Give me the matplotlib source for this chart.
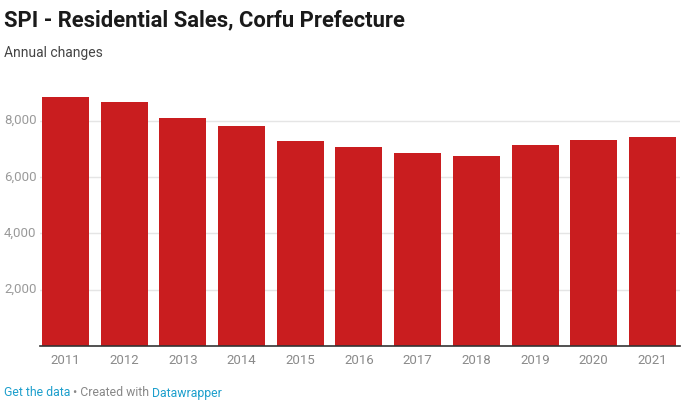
import matplotlib
matplotlib.use("Agg")
from matplotlib import pyplot as plt

years = ["2011", "2012", "2013", "2014", "2015", "2016",
         "2017", "2018", "2019", "2020", "2021"]
sales = [8850, 8680, 8105, 7820, 7290, 7050, 6860, 6755, 7145, 7325, 7430]
y_ticks = [2000, 4000, 6000, 8000]


def main():
    plt.rcParams["font.family"] = ["Roboto", "DejaVu Sans"]
    W, H = 694, 404
    fig = plt.figure(figsize=(W / 100, H / 100), dpi=100)

    # axes: x 40..680 px, baseline at 346 px
    left, right = 40 / W, 680 / W
    bottom = (H - 346) / H
    top = (H - 92.5) / H
    ax = fig.add_axes([left, bottom, right - left, top - bottom])

    x = range(len(years))
    ax.bar(x, sales, width=0.8, color="#c91d1f", zorder=2)

    ax.set_xlim(-0.434, 10.47)
    ax.set_ylim(0, 9000)
    ax.set_yticks(y_ticks)
    ax.set_yticklabels([])
    ax.grid(axis="y", color="#e5e5e5", linewidth=1, zorder=0)
    for s in ("top", "right", "left"):
        ax.spines[s].set_visible(False)
    ax.spines["bottom"].set_color("#333333")
    ax.spines["bottom"].set_linewidth(1.2)
    ax.spines["bottom"].set_zorder(3)

    ax.set_xticks(list(x))
    ax.set_xticklabels(years, color="#8a8a8a", fontsize=9.5)
    ax.tick_params(axis="x", length=0, pad=6)
    ax.tick_params(axis="y", length=0)

    # y labels sit at the left edge of the figure
    for t in y_ticks:
        ypix = 346 - t / 9000 * (346 - 92.5)
        fig.text(4 / W, 1 - ypix / H, f"{t:,}", ha="left", va="center",
                 color="#9a9a9a", fontsize=9.5)

    fig.text(4 / W, 1 - 20 / H, "SPI - Residential Sales, Corfu Prefecture",
             fontsize=15.8, fontweight="bold", color="#1a1a1a",
             ha="left", va="center")
    fig.text(4 / W, 1 - 53 / H, "Annual changes", fontsize=10,
             color="#444444", ha="left", va="center")

    # footer pieces placed one after another
    fy = 1 - 393 / H
    fs = 8.8
    t1 = fig.text(4 / W, fy, "Get the data", fontsize=fs,
                  color="#1d9fcc", ha="left", va="center")
    fig.canvas.draw()
    x1 = t1.get_window_extent().x1 + 3
    t2 = fig.text(x1 / W, fy, "\u2022 Created with", fontsize=fs,
                  color="#888888", ha="left", va="center")
    fig.canvas.draw()
    x2 = t2.get_window_extent().x1 + 2.5
    fig.text(x2 / W, fy, "Datawrapper", fontsize=fs,
             color="#1d9fcc", ha="left", va="center")

    fig.savefig("out.png", dpi=100)


if __name__ == "__main__":
    main()
